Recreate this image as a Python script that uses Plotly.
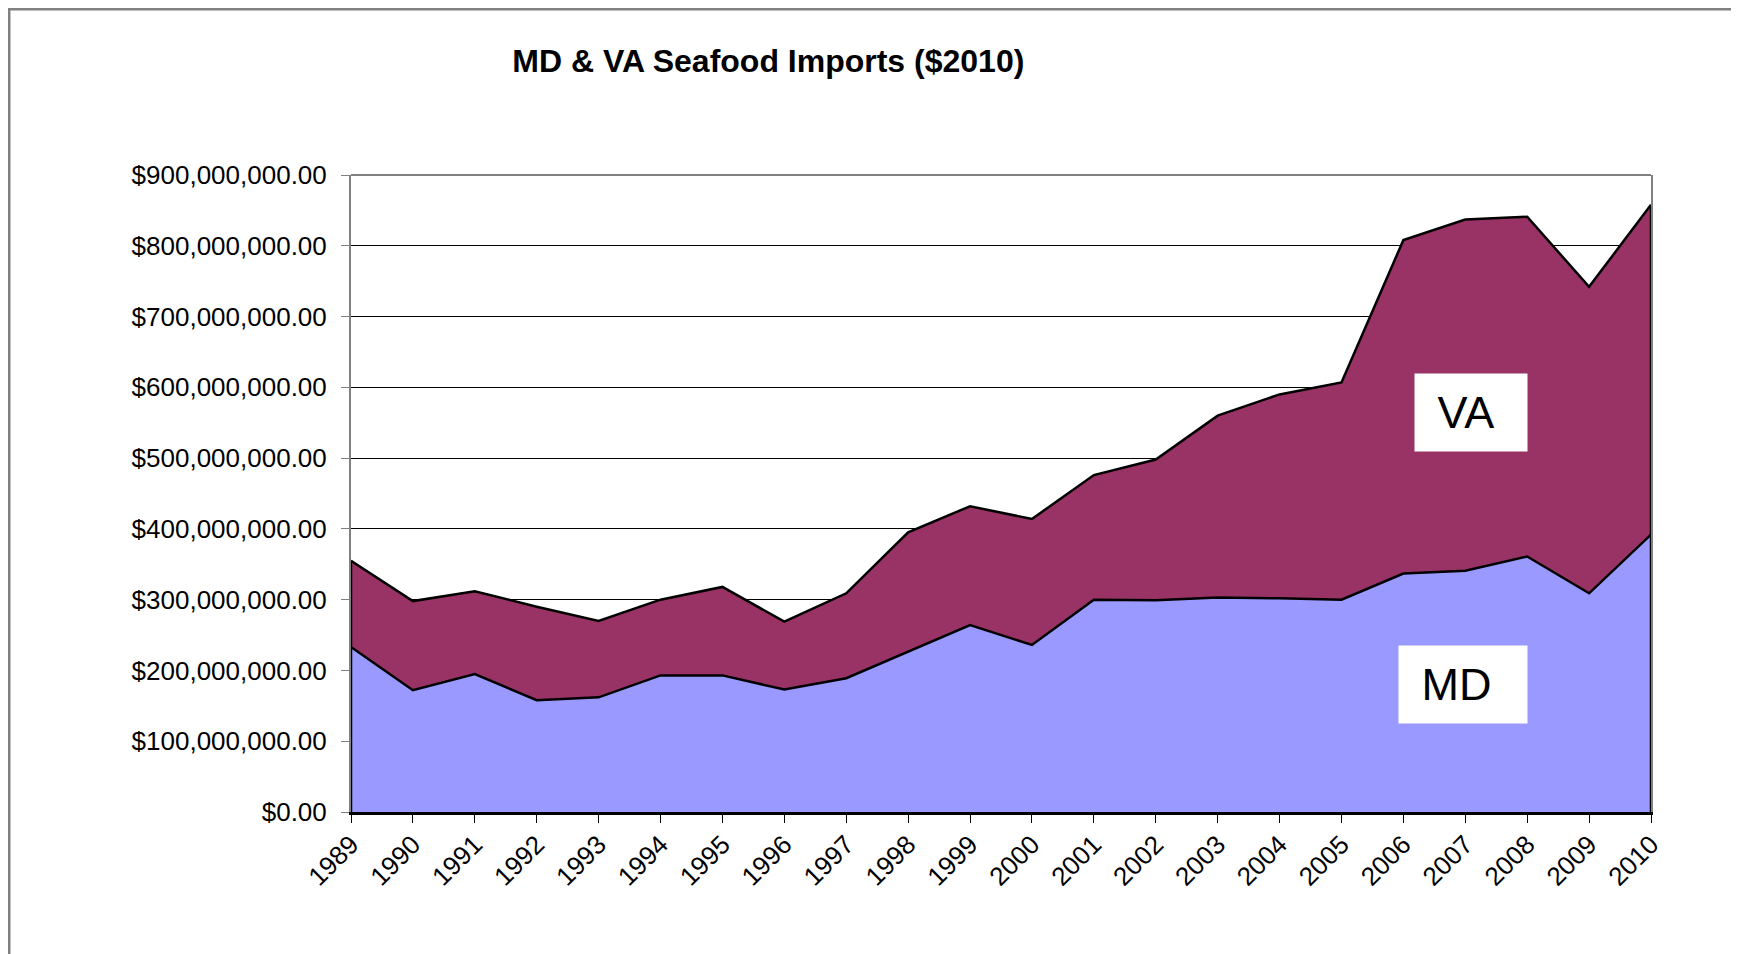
import plotly.graph_objects as go

years = list(range(1989, 2011))
md_imports = [233e6, 172e6, 195e6, 158e6, 162e6, 193e6, 193e6, 173e6, 189e6, 226e6, 264e6,
              236e6, 300e6, 299e6, 303e6, 302e6, 300e6, 337e6, 341e6, 361e6, 309e6, 392e6]
total_imports = [355e6, 298e6, 312e6, 290e6, 270e6, 300e6, 318e6, 269e6, 309e6, 395e6, 432e6,
                 414e6, 476e6, 498e6, 560e6, 590e6, 607e6, 808e6, 837e6, 841e6, 742e6, 858e6]
va_imports = [t - m for t, m in zip(total_imports, md_imports)]

MD_COLOR = "#9999FF"
VA_COLOR = "#993366"
FONT = "Arial, Liberation Sans, sans-serif"

fig = go.Figure()
fig.add_trace(go.Scatter(x=years, y=md_imports, name="MD", stackgroup="one", mode="lines",
                         fillcolor=MD_COLOR, line=dict(color="black", width=2.5)))
fig.add_trace(go.Scatter(x=years, y=va_imports, name="VA", stackgroup="one", mode="lines",
                         fillcolor=VA_COLOR, line=dict(color="black", width=2.5)))
# closing edges of the area at both ends
for i in (0, -1):
    fig.add_trace(go.Scatter(x=[years[i], years[i]], y=[0, total_imports[i]], mode="lines",
                             line=dict(color="black", width=2.5), hoverinfo="skip"))

# page body adds an 8px margin, so the figure is 8px smaller than the window
fig.update_layout(
    width=1731,
    height=946,
    showlegend=False,
    paper_bgcolor="white",
    plot_bgcolor="white",
    font=dict(family=FONT, color="black", size=26),
    margin=dict(l=343, r=88, t=167, b=142, autoexpand=False),
    title=dict(text="<b>MD & VA Seafood Imports ($2010)</b>", font=dict(size=32, family=FONT),
               x=0.321, xref="paper", xanchor="center", y=1 - 52.5 / 946, yanchor="middle"),
)
fig.update_xaxes(
    range=[1989, 2010], tickvals=years, tickangle=-45, ticks="outside", ticklen=8,
    tickcolor="black", showgrid=False, showline=True, linecolor="black", linewidth=3,
    zeroline=False, automargin=False, tickfont=dict(size=26), ticklabelstandoff=-4,
)
fig.update_yaxes(
    range=[0, 900e6], dtick=100e6, tickprefix="$", tickformat=",.2f", ticks="outside",
    ticklen=8, tickcolor="#808080", showgrid=True, gridcolor="black", gridwidth=1,
    showline=True, linecolor="#808080", linewidth=2, mirror=True, zeroline=False,
    automargin=False, ticklabelstandoff=9, tickfont=dict(size=26),
)

# plot area top border and outer chart frame
fig.add_shape(type="line", xref="paper", yref="paper", x0=0, x1=1, y0=1, y1=1,
              line=dict(color="#808080", width=2))
fig.add_shape(type="rect", xref="paper", yref="paper", x0=-0.2629, x1=1.0638, y0=-0.3, y1=1.2602,
              line=dict(color="#808080", width=2.5), layer="above")

fig.add_annotation(x=2007.09, y=564e6, text="\u2002VA", showarrow=False, bgcolor="white",
                   width=112, height=77, align="left", borderpad=0, font=dict(size=45))
fig.add_annotation(x=2006.96, y=180e6, text="\u2002MD", showarrow=False, bgcolor="white",
                   width=128, height=77, align="left", borderpad=0, font=dict(size=45))

fig.write_html("out.html")
